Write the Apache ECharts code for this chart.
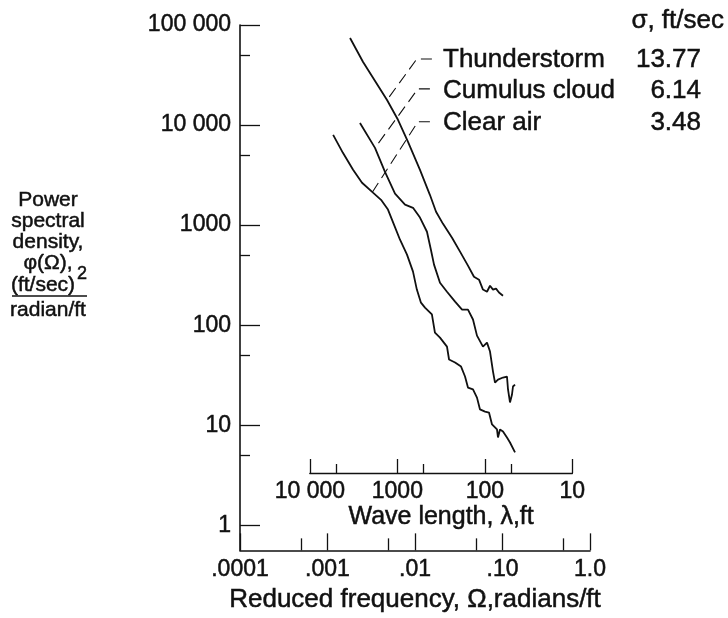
<!DOCTYPE html>
<html>
<head>
<meta charset="utf-8">
<script src="https://cdn.jsdelivr.net/npm/echarts@6/dist/echarts.min.js"></script>
<style>
  html, body { margin: 0; padding: 0; background: #fff; }
  #chart { width: 728px; height: 618px; }
</style>
</head>
<body>
<div id="chart"></div>
<script>
// axis ticks (real units) and their printed labels
const freqTicks = [0.0001, 0.001, 0.01, 0.1, 1];
const freqTickLabels = ['.0001', '.001', '.01', '.10', '1.0'];
const freqMinor = [0.0005, 0.005, 0.05, 0.5];
const psdTicks = [1, 10, 100, 1000, 10000, 100000];
const psdTickLabels = ['1', '10', '100', '1000', '10 000', '100 000'];
const psdMinor = [5, 50, 500, 5000, 50000];
const waveTicks = [10000, 1000, 100, 10];
const waveTickLabels = ['10 000', '1000', '100', '10'];
const waveMinor = [5000, 500, 50];

const turbNames = ['Thunderstorm', 'Cumulus cloud', 'Clear air'];
const sigmaValues = ['13.77', '6.14', '3.48'];

// reduced frequency (rad/ft) and PSD ((ft/sec)^2 / (rad/ft))
const stormFreq = [0.00181, 0.00255, 0.00479, 0.00639, 0.00832, 0.0114, 0.0148, 0.0174, 0.0209, 0.0265,
  0.0327, 0.0403, 0.0472, 0.0539, 0.0598, 0.0665, 0.0720, 0.0779, 0.0843, 0.0912, 0.1013];
const stormPsd = [74100, 42700, 17800, 11300, 6800, 3570, 2010, 1360, 1030, 748,
  543, 394, 305, 285, 227, 216, 248, 227, 232, 212, 197];

const cumulusFreq = [0.00235, 0.00349, 0.00454, 0.00591, 0.00769, 0.00949, 0.0114, 0.0137, 0.0152, 0.0165,
  0.0193, 0.0232, 0.0287, 0.0345, 0.0403, 0.0460, 0.0511, 0.0598, 0.0665, 0.0720,
  0.0779, 0.0821, 0.0888, 0.1013, 0.1125, 0.1156, 0.1218, 0.1284, 0.1318, 0.1390];
const cumulusPsd = [10500, 5920, 3410, 2060, 1600, 1490, 1190, 859, 568, 403,
  266, 216, 172, 143, 143, 114, 78.7, 61.1, 67.0, 54.5,
  34.4, 26.7, 28.6, 30.0, 30.7, 22.8, 16.9, 20.3, 24.4, 25.5];

const clearFreq = [0.00116, 0.00150, 0.00196, 0.00248, 0.00331, 0.00409, 0.00491, 0.00575, 0.00674, 0.00810,
  0.00949, 0.0105, 0.0117, 0.0130, 0.0156, 0.0169, 0.0193, 0.0232, 0.0245, 0.0287,
  0.0336, 0.0373, 0.0403, 0.0460, 0.0511, 0.0553, 0.0631, 0.0701, 0.0759, 0.0865,
  0.0888, 0.0936, 0.1013, 0.1125, 0.1218, 0.1390];
const clearPsd = [7980, 5280, 3570, 2650, 2110, 1790, 1430, 1010, 715, 507,
  343, 227, 168, 150, 128, 84.4, 75.2, 61.1, 45.4, 42.4,
  38.6, 30.7, 23.8, 22.8, 18.9, 14.4, 13.7, 13.4, 10.2, 9.08,
  7.55, 9.08, 8.67, 7.55, 6.73, 5.35];

// leader lines from the labels to the curves [freq, psd]
const stormLeader = [[0.0156, 45800], [0.0105, 45800], [0.00479, 17800]];
const cumulusLeader = [[0.0148, 23000], [0.0108, 23000], [0.00349, 5920]];
const clearLeader = [[0.0148, 10800], [0.0108, 10800], [0.00323, 2110]];

const lg = Math.log10;
const pairs = (xs, ys) => xs.map((x, i) => [lg(x), lg(ys[i])]);
const pickLabel = (ticks, labels) => v => {
  const i = ticks.findIndex(t => Math.abs(lg(t) - v) < 1e-6);
  return i < 0 ? '' : labels[i];
};

const FONT = "'Liberation Sans', Arial, Helvetica, sans-serif";
const black = '#111';
// scanned print is a bit heavier than plain Liberation Sans
const heavy = { textBorderColor: black, textBorderWidth: 0.5 };

// main plot box
const gLeft = 240, gRight = 590, gTop = 25, gBottom = 551;
const decade = (gRight - gLeft) / 4;
// wave length axis lines up with lambda = 2*pi / omega
const wLeft = gLeft + (lg(2 * Math.PI / 10000) + 4) * decade;
const wRight = gLeft + (lg(2 * Math.PI / 10) + 4) * decade;
const wAxisY = 473;

const chart = echarts.init(document.getElementById('chart'));

const curveSeries = (data) => ({
  type: 'line', xAxisIndex: 0, yAxisIndex: 0, data,
  showSymbol: false, symbol: 'none', silent: true,
  lineStyle: { color: black, width: 1.8 }
});
const leaderSeries = (data) => ({
  type: 'line', xAxisIndex: 0, yAxisIndex: 0, data: data.map(p => [lg(p[0]), lg(p[1])]),
  showSymbol: false, symbol: 'none', silent: true,
  lineStyle: { color: black, width: 1.1, type: [11, 6] }
});

const minorTickAxis = (extra) => Object.assign({
  type: 'value', axisLine: { show: false, onZero: false },
  axisLabel: { show: false }, splitLine: { show: false }
}, extra);

const titleFont = '21px ' + FONT;
const legendFont = '26px ' + FONT;
const leftTitle = [
  ['Power', 200], ['spectral', 221], ['density,', 242], ['φ(Ω),', 263], ['(ft/sec)', 285], ['radian/ft', 310]
];
const gText = (text, x, y, font, align) => ({
  type: 'text', x, y,
  style: { text, fill: black, font, textAlign: align, textVerticalAlign: 'middle', stroke: black, lineWidth: 0.5 }
});

chart.setOption({
  animation: false,
  textStyle: { fontFamily: FONT, color: black },
  grid: [
    { left: gLeft, right: 728 - gRight, top: gTop, bottom: 618 - gBottom },
    { left: wLeft, right: 728 - wRight, top: wAxisY - 100, bottom: 618 - wAxisY }
  ],
  xAxis: [
    {
      gridIndex: 0, type: 'value', min: -4, max: 0, interval: 1, position: 'bottom',
      axisLine: { onZero: false, lineStyle: { color: black, width: 1.6 } },
      axisTick: { inside: true, length: 17, lineStyle: { color: black, width: 1.3 } },
      axisLabel: Object.assign({ color: black, fontSize: 23, margin: 8, formatter: pickLabel(freqTicks, freqTickLabels) }, heavy),
      splitLine: { show: false },
      name: 'Reduced frequency, Ω,radians/ft', nameLocation: 'middle', nameGap: 33,
      nameTextStyle: Object.assign({ color: black, fontSize: 26 }, heavy)
    },
    minorTickAxis({
      gridIndex: 0, min: -4, max: 0, position: 'bottom',
      axisTick: { inside: true, length: 12, customValues: freqMinor.map(lg), lineStyle: { color: black, width: 1.3 } }
    }),
    {
      gridIndex: 1, type: 'value', min: 1, max: 4, interval: 1, inverse: true, position: 'bottom',
      axisLine: { onZero: false, lineStyle: { color: black, width: 1.4 } },
      axisTick: { inside: true, length: 14, lineStyle: { color: black, width: 1.3 } },
      axisLabel: Object.assign({ color: black, fontSize: 23, margin: 7, formatter: pickLabel(waveTicks, waveTickLabels) }, heavy),
      splitLine: { show: false },
      name: 'Wave length, λ,ft', nameLocation: 'middle', nameGap: 30,
      nameTextStyle: Object.assign({ color: black, fontSize: 25 }, heavy)
    },
    minorTickAxis({
      gridIndex: 1, min: 1, max: 4, inverse: true, position: 'bottom',
      axisTick: { inside: true, length: 9, customValues: waveMinor.map(lg), lineStyle: { color: black, width: 1.3 } }
    })
  ],
  yAxis: [
    {
      gridIndex: 0, type: 'value', min: -0.25, max: 5, position: 'left',
      axisLine: { onZero: false, lineStyle: { color: black, width: 1.6 } },
      axisTick: { inside: true, length: 20, customValues: psdTicks.map(lg), lineStyle: { color: black, width: 1.3 } },
      axisLabel: Object.assign({ color: black, fontSize: 23, margin: 9, customValues: psdTicks.map(lg), formatter: pickLabel(psdTicks, psdTickLabels) }, heavy),
      splitLine: { show: false }
    },
    minorTickAxis({
      gridIndex: 0, min: -0.25, max: 5, position: 'left',
      axisTick: { inside: true, length: 10, customValues: psdMinor.map(lg), lineStyle: { color: black, width: 1.3 } }
    }),
    { gridIndex: 1, type: 'value', show: false, min: 0, max: 1 }
  ],
  series: [
    curveSeries(pairs(stormFreq, stormPsd)),
    curveSeries(pairs(cumulusFreq, cumulusPsd)),
    curveSeries(pairs(clearFreq, clearPsd)),
    leaderSeries(stormLeader),
    leaderSeries(cumulusLeader),
    leaderSeries(clearLeader)
  ],
  graphic: [
    ...leftTitle.map(([t, y]) => gText(t, t === '(ft/sec)' ? 43 : 48, y, titleFont, 'center')),
    gText('2', 77, 274, '18px ' + FONT, 'left'),
    { type: 'line', shape: { x1: 12, y1: 296, x2: 87, y2: 296 }, style: { stroke: black, lineWidth: 1.3 } },
    gText('σ, ft/sec', 724, 21, legendFont, 'right'),
    ...turbNames.map((n, i) => gText(n, 443, [60, 91, 123][i], legendFont, 'left')),
    ...sigmaValues.map((s, i) => gText(s, 701, [60, 91, 123][i], legendFont, 'right'))
  ]
});
</script>
</body>
</html>
